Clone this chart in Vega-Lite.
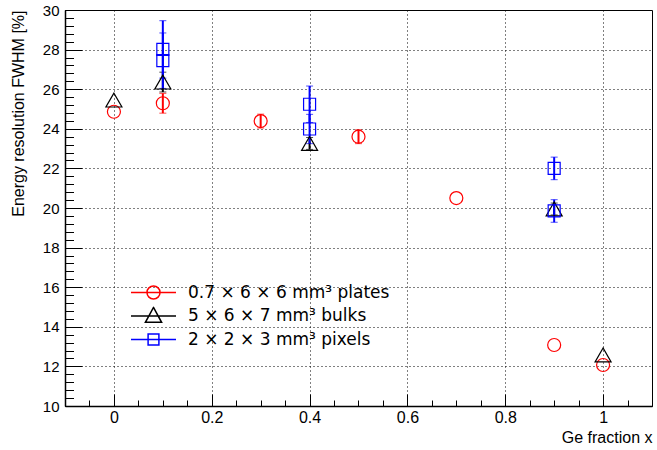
{
  "$schema": "https://vega.github.io/schema/vega-lite/v6.json",
  "width": 587,
  "height": 396,
  "autosize": {"type": "none"},
  "padding": {"left": 65, "top": 10, "right": 5, "bottom": 44},
  "background": "white",
  "config": {
    "font": "Liberation Sans",
    "view": {"stroke": "black", "strokeWidth": 1},
    "axis": {"labelFont": "Liberation Sans", "titleFont": "Liberation Sans", "labelColor": "black", "titleColor": "black", "domainColor": "black", "tickColor": "black", "labelFontSize": 16, "titleFontSize": 16, "titleFontWeight": "normal"}
  },
  "data": {
    "values": [
      {"series": "0.7 × 6 × 6 mm³ plates", "x": 0.0, "y": 24.86, "err": 0.0},
      {"series": "0.7 × 6 × 6 mm³ plates", "x": 0.1, "y": 25.29, "err": 0.5},
      {"series": "0.7 × 6 × 6 mm³ plates", "x": 0.3, "y": 24.39, "err": 0.35},
      {"series": "0.7 × 6 × 6 mm³ plates", "x": 0.5, "y": 23.6, "err": 0.35},
      {"series": "0.7 × 6 × 6 mm³ plates", "x": 0.7, "y": 20.5, "err": 0.0},
      {"series": "0.7 × 6 × 6 mm³ plates", "x": 0.9, "y": 13.08, "err": 0.0},
      {"series": "0.7 × 6 × 6 mm³ plates", "x": 1.0, "y": 12.07, "err": 0.0},
      {"series": "5 × 6 × 7 mm³ bulks", "x": 0.0, "y": 25.45, "err": 0.0},
      {"series": "5 × 6 × 7 mm³ bulks", "x": 0.1, "y": 26.36, "err": 0.5},
      {"series": "5 × 6 × 7 mm³ bulks", "x": 0.4, "y": 23.26, "err": 0.3},
      {"series": "5 × 6 × 7 mm³ bulks", "x": 0.9, "y": 19.95, "err": 0.3},
      {"series": "5 × 6 × 7 mm³ bulks", "x": 1.0, "y": 12.58, "err": 0.0},
      {"series": "2 × 2 × 3 mm³ pixels", "x": 0.1, "y": 28.01, "err": 1.45},
      {"series": "2 × 2 × 3 mm³ pixels", "x": 0.1, "y": 27.44, "err": 1.4},
      {"series": "2 × 2 × 3 mm³ pixels", "x": 0.4, "y": 25.24, "err": 0.92},
      {"series": "2 × 2 × 3 mm³ pixels", "x": 0.4, "y": 23.99, "err": 0.74},
      {"series": "2 × 2 × 3 mm³ pixels", "x": 0.9, "y": 22.0, "err": 0.57},
      {"series": "2 × 2 × 3 mm³ pixels", "x": 0.9, "y": 19.85, "err": 0.57}
    ]
  },
  "encoding": {
    "x": {
      "field": "x", "type": "quantitative",
      "scale": {"domain": [-0.1, 1.1], "nice": false, "zero": false},
      "axis": {
        "title": "Ge fraction x",
        "titleAnchor": "end", "titleAlign": "right", "titlePadding": -2,
        "values": [-0.1, -0.05, 0, 0.05, 0.1, 0.15, 0.2, 0.25, 0.3, 0.35, 0.4, 0.45, 0.5, 0.55, 0.6, 0.65, 0.7, 0.75, 0.8, 0.85, 0.9, 0.95, 1.0, 1.05, 1.1],
        "labelExpr": "abs(datum.value*5 - round(datum.value*5)) < 0.001 ? format(datum.value, '.1~f') : ''",
        "labelOverlap": false, "labelFlush": false,
        "grid": true, "gridColor": "black", "gridDash": [1, 3], "gridWidth": 1,
        "gridOpacity": {"condition": {"test": "abs(datum.value*5 - round(datum.value*5)) < 0.001", "value": 1}, "value": 0},
        "tickSize": {"condition": {"test": "abs(datum.value*5 - round(datum.value*5)) < 0.001", "value": -12}, "value": -6},
        "labelPadding": 15,
        "domainWidth": 1.5
      }
    },
    "y": {
      "field": "y", "type": "quantitative",
      "scale": {"domain": [10, 30], "nice": false, "zero": false},
      "axis": {
        "title": "Energy resolution FWHM [%]",
        "titleAnchor": "end", "titlePadding": 16,
        "values": [10, 10.4, 10.8, 11.2, 11.6, 12, 12.4, 12.8, 13.2, 13.6, 14, 14.4, 14.8, 15.2, 15.6, 16, 16.4, 16.8, 17.2, 17.6, 18, 18.4, 18.8, 19.2, 19.6, 20, 20.4, 20.8, 21.2, 21.6, 22, 22.4, 22.8, 23.2, 23.6, 24, 24.4, 24.8, 25.2, 25.6, 26, 26.4, 26.8, 27.2, 27.6, 28, 28.4, 28.8, 29.2, 29.6, 30],
        "labelExpr": "abs(datum.value/2 - round(datum.value/2)) < 0.001 ? format(datum.value, 'd') : ''",
        "labelOverlap": false, "labelFlush": false, "labelFontSize": 15,
        "grid": true, "gridColor": "black", "gridDash": [1, 3], "gridWidth": 1,
        "gridOpacity": {"condition": {"test": "abs(datum.value/2 - round(datum.value/2)) < 0.001", "value": 1}, "value": 0},
        "tickSize": {"condition": {"test": "abs(datum.value/2 - round(datum.value/2)) < 0.001", "value": -17}, "value": -8.5},
        "labelPadding": 23,
        "domainWidth": 1.5
      }
    }
  },
  "layer": [
    {
      "transform": [{"filter": "datum.err > 0"}],
      "mark": {"type": "errorbar", "ticks": {"size": 7}, "rule": {"strokeWidth": 2}},
      "encoding": {
        "yError": {"field": "err"},
        "color": {"field": "series", "type": "nominal", "scale": {"domain": ["0.7 × 6 × 6 mm³ plates", "5 × 6 × 7 mm³ bulks", "2 × 2 × 3 mm³ pixels"], "range": ["#ff0000", "#000000", "#0000ff"]}, "legend": null}
      }
    },
    {
      "mark": {"type": "point", "filled": false, "strokeWidth": 1.2, "opacity": 1},
      "encoding": {
        "color": {"field": "series", "type": "nominal", "scale": {"domain": ["0.7 × 6 × 6 mm³ plates", "5 × 6 × 7 mm³ bulks", "2 × 2 × 3 mm³ pixels"], "range": ["#ff0000", "#000000", "#0000ff"]}, "legend": null},
        "shape": {"field": "series", "type": "nominal", "scale": {"domain": ["0.7 × 6 × 6 mm³ plates", "5 × 6 × 7 mm³ bulks", "2 × 2 × 3 mm³ pixels"], "range": ["circle", "triangle-up", "square"]}, "legend": null},
        "size": {"field": "series", "type": "nominal", "scale": {"type": "ordinal", "domain": ["0.7 × 6 × 6 mm³ plates", "5 × 6 × 7 mm³ bulks", "2 × 2 × 3 mm³ pixels"], "range": [169, 256, 144]}, "legend": null}
      }
    },
    {
      "mark": {"type": "point", "filled": false, "opacity": 0},
      "encoding": {
        "color": {"field": "series", "type": "nominal", "scale": {"domain": ["0.7 × 6 × 6 mm³ plates", "5 × 6 × 7 mm³ bulks", "2 × 2 × 3 mm³ pixels"], "range": ["#ff0000", "#000000", "#0000ff"]},
          "legend": {"title": null, "orient": "none", "legendX": 65, "legendY": 273, "padding": 0, "symbolSize": 2025, "symbolStrokeWidth": 1.5, "symbolOpacity": 1, "symbolFillColor": "transparent", "labelFontSize": 17, "labelFont": "DejaVu Sans", "labelColor": "black", "labelOffset": 11, "rowPadding": 4.5, "clipHeight": 19, "labelLimit": 400}},
        "shape": {"field": "series", "type": "nominal", "scale": {"domain": ["0.7 × 6 × 6 mm³ plates", "5 × 6 × 7 mm³ bulks", "2 × 2 × 3 mm³ pixels"], "range": ["M-1,0H1M0.29,0A0.29,0.29,0,1,1,-0.29,0A0.29,0.29,0,1,1,0.29,0Z", "M-1,0H1M0,-0.38L0.36,0.28L-0.36,0.28Z", "M-1,0H1M-0.24,-0.24H0.24V0.24H-0.24Z"]},
          "legend": {"title": null, "orient": "none", "legendX": 65, "legendY": 273, "padding": 0, "symbolSize": 2025, "symbolStrokeWidth": 1.5, "symbolOpacity": 1, "symbolFillColor": "transparent", "labelFontSize": 17, "labelFont": "DejaVu Sans", "labelColor": "black", "labelOffset": 11, "rowPadding": 4.5, "clipHeight": 19, "labelLimit": 400}}
      }
    }
  ],
  "resolve": {"scale": {"color": "independent", "shape": "independent", "size": "independent"}}
}
